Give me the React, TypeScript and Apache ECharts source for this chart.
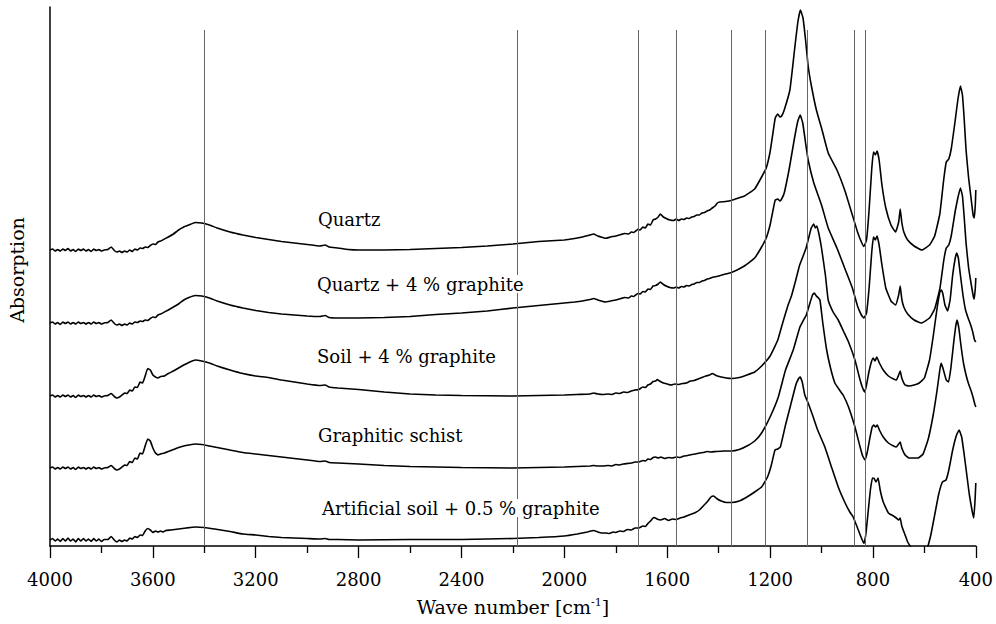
import React, { useEffect, useRef } from "react";
import * as echarts from "echarts";

const SERIES_NAMES = [
  "Quartz",
  "Quartz + 4 % graphite",
  "Soil + 4 % graphite",
  "Graphitic schist",
  "Artificial soil + 0.5 % graphite",
];

const OFFSETS = [296, 223, 150, 78, 6];
const REF_LINES = [3399, 2183, 1714, 1565, 1352, 1220, 1055, 872, 830];

const QUARTZ = [
  [4000,0],[3990,1],[3980,-1],[3970,0.5],[3960,-1],[3950,1],[3940,-0.5],[3930,1.5],[3920,-1],[3910,0.5],[3900,-1.5],[3890,1],[3880,-0.5],[3870,1],[3860,-1],[3850,0.5],[3840,-1.5],[3830,1],[3820,-0.5],[3810,0.5],[3800,-1],[3790,0],[3775,0.5],[3762,3],[3750,-0.5],[3740,-2],[3730,-1],[3720,-2.5],[3710,-1],[3700,-2],[3690,0],[3680,-1.5],[3670,1],[3660,0],[3650,2],[3640,1.5],[3630,3],[3620,2.5],[3610,4.5],[3600,6],[3590,5.5],[3580,8],[3570,9],[3555,11],[3540,13],[3520,16],[3500,20],[3480,23],[3460,25],[3435,27.5],[3410,27],[3380,25],[3350,22],[3300,18],[3250,15],[3200,12.5],[3150,10.5],[3100,8.5],[3050,7],[3000,5.5],[2950,4],[2930,5],[2915,3],[2880,2],[2840,0.5],[2800,0],[2700,0],[2600,0.5],[2500,1.5],[2400,2.5],[2300,4],[2200,6],[2100,8.5],[2000,10],[1960,11.5],[1930,13],[1900,15],[1886,16],[1870,14],[1850,12.5],[1840,11.7],[1820,13],[1800,14],[1780,15.5],[1765,16.5],[1750,16],[1740,18],[1730,17.5],[1720,19.5],[1714,20.7],[1705,20],[1695,23],[1685,22],[1675,26],[1665,25],[1655,30],[1645,31],[1635,33],[1627,36],[1615,33],[1600,31],[1590,30],[1575,29.5],[1565,31],[1555,29.5],[1545,31],[1535,30.5],[1525,32],[1515,31.5],[1505,33],[1495,33.5],[1485,35],[1475,35],[1465,37],[1455,37.5],[1445,39],[1435,40],[1425,42],[1414,44],[1405,47],[1395,48],[1380,48.3],[1360,49],[1340,50.5],[1300,54],[1260,61],[1233,73],[1215,82],[1200,98],[1190,115],[1180,132],[1170,136],[1162,133],[1155,134],[1145,140],[1123,160],[1105,200],[1092,228],[1082,240],[1072,232],[1062,210],[1052,184],[1040,165],[1020,140],[1000,122],[974,97],[940,80],[910,60],[880,35],[860,18],[845,8],[835,3.5],[825,10],[815,40],[805,80],[798,98],[791,95],[784,99],[776,90],[765,65],[750,42],[730,25],[712,18],[700,28],[694,41],[688,28],[680,18],[665,10],[640,4],[610,0],[580,5],[560,14],[540,36],[525,70],[515,88],[505,91],[495,102],[480,130],[470,150],[460,164],[452,155],[445,130],[438,100],[428,72],[420,55],[410,34],[406,32],[402,45],[400,60],
];

const QUARTZ_GRAPHITE = [
  [4000,0],[3990,1],[3980,-1],[3970,0.5],[3960,-1.5],[3950,1],[3940,-0.5],[3930,1],[3920,-1],[3910,0.5],[3900,-1],[3890,1],[3880,-0.5],[3870,0.5],[3860,-1],[3850,0.5],[3840,-1],[3830,1],[3820,-0.5],[3810,0.5],[3800,-1],[3790,0],[3775,0.5],[3762,3],[3750,-0.5],[3740,-2],[3730,-1],[3720,-2.5],[3710,-1],[3700,-2],[3690,0],[3680,-1],[3670,1],[3660,0.5],[3650,2],[3640,1.5],[3630,3],[3620,2.5],[3610,4.5],[3600,6],[3590,5.5],[3580,8],[3570,9],[3555,11],[3540,13],[3520,16],[3500,19],[3480,23],[3460,25.5],[3435,27.5],[3410,27],[3380,25],[3350,22],[3300,18],[3250,15],[3200,12.5],[3150,10.5],[3100,9],[3000,7],[2950,6.5],[2930,7.5],[2915,5.5],[2880,5],[2800,5],[2700,5.5],[2600,6.5],[2500,8.5],[2400,10],[2300,12],[2200,15],[2100,17.5],[2000,20],[1960,21],[1930,22],[1900,23.5],[1886,24.5],[1870,23],[1850,21.5],[1840,21],[1820,22],[1800,23],[1780,24.5],[1765,25.5],[1750,25],[1740,27],[1730,26.5],[1720,28.5],[1714,29.5],[1705,29],[1695,31.5],[1685,31],[1675,34],[1665,33.5],[1655,37],[1645,37.5],[1635,39],[1627,41],[1615,38.5],[1600,36.5],[1590,35.5],[1575,35],[1565,36],[1555,35],[1545,36.5],[1535,36],[1525,37.5],[1515,37],[1505,38.5],[1495,39],[1485,40.5],[1475,40.5],[1465,42],[1455,42.5],[1445,44],[1435,44.5],[1420,46],[1400,47],[1380,48.5],[1350,50.5],[1300,57],[1260,65],[1233,76],[1215,85],[1200,98],[1190,111],[1180,123],[1170,124],[1162,122],[1155,124],[1145,130],[1125,155],[1105,185],[1092,202],[1083,208],[1073,200],[1062,180],[1052,163],[1030,140],[1000,118],[974,95],[940,75],[910,55],[880,35],[860,17],[845,8],[835,5],[825,10],[815,35],[805,70],[798,86],[791,83],[784,87],[776,78],[765,58],[750,35],[730,22],[712,18],[700,28],[694,37],[688,24],[680,16],[665,9],[640,3],[612,0],[580,5],[560,14],[540,34],[525,62],[515,75],[505,78],[495,88],[480,112],[470,125],[460,135],[452,127],[445,105],[438,80],[428,55],[420,42],[410,27],[406,24],[402,35],[400,45],
];

const SOIL_GRAPHITE = [
  [4000,0],[3990,1],[3980,-1],[3970,0.5],[3960,-1],[3950,1],[3940,-0.5],[3930,1],[3920,-1],[3910,0.5],[3900,-1.5],[3890,1],[3880,-0.5],[3870,0.5],[3860,-1],[3850,0.5],[3840,-1],[3830,1],[3820,-0.5],[3810,0.5],[3800,-1],[3790,0],[3775,0.5],[3762,2.5],[3750,-0.5],[3740,-2],[3730,-1],[3720,1],[3710,3],[3700,2.5],[3690,6],[3680,5],[3670,9],[3660,8.5],[3650,14],[3640,13],[3630,20],[3620,27.5],[3610,26],[3600,21],[3590,19],[3580,18],[3570,19.5],[3555,20],[3540,22.5],[3520,25],[3500,28],[3480,31],[3460,33.5],[3435,36],[3410,35],[3380,33],[3350,30],[3300,26],[3250,22.5],[3200,20],[3150,18.5],[3100,16],[3050,14],[3000,12],[2950,10.5],[2930,11],[2915,9],[2880,8],[2800,6.5],[2700,4],[2600,2],[2500,1],[2400,0.5],[2200,0],[2100,0.5],[2000,1],[1950,1.5],[1900,2],[1886,3],[1870,2],[1850,1.5],[1830,2],[1815,1.5],[1800,3],[1785,2.5],[1770,4],[1755,3.5],[1740,5],[1725,6],[1710,6.5],[1695,9],[1685,8.5],[1675,11],[1665,12],[1655,14.5],[1645,15],[1638,16.5],[1630,15],[1615,13],[1600,12],[1585,11],[1570,12],[1555,11.5],[1540,12.5],[1525,13],[1510,15],[1495,15.5],[1480,17],[1465,18.5],[1450,20],[1435,21],[1425,22.5],[1410,20.5],[1390,19],[1370,18],[1350,17.5],[1320,18.5],[1290,21],[1260,24],[1233,30],[1200,40],[1170,56],[1150,74],[1130,91],[1117,100],[1100,116],[1085,131],[1070,141],[1060,148],[1050,158],[1040,168],[1030,172],[1024,168],[1018,170],[1010,162],[1000,148],[985,121],[974,96],[955,84],[935,76],[915,65],[895,54],[870,36],[850,16],[840,8],[832,4],[825,11],[815,25],[805,35],[799,38],[792,35],[785,39],[775,33],[760,26],[740,20],[720,17],[709,16],[700,21],[694,25],[688,18],[675,11],[660,10],[640,11],[620,13],[600,18],[580,36],[565,61],[550,89],[540,104],[534,106],[528,102],[520,91],[510,85],[500,96],[490,121],[480,138],[474,143],[468,138],[460,121],[450,101],[440,86],[430,78],[420,71],[412,64],[405,56],[400,54],
];

const GRAPHITIC_SCHIST = [
  [4000,0],[3990,1],[3980,-1],[3970,0.5],[3960,-1],[3950,1],[3940,-0.5],[3930,1],[3920,-1],[3910,0.5],[3900,-1.5],[3890,1],[3880,-0.5],[3870,0.5],[3860,-1],[3850,0.5],[3840,-1],[3830,1],[3820,-0.5],[3810,0.5],[3800,-1],[3790,0],[3775,0.5],[3762,2.5],[3750,-0.5],[3740,-2],[3730,-1],[3720,1],[3710,3],[3700,2.5],[3690,6.5],[3680,5.5],[3670,10],[3660,9],[3650,15],[3640,14],[3630,22],[3620,29],[3610,27],[3600,20],[3590,15],[3580,13],[3570,14],[3555,15],[3540,16.5],[3520,18.5],[3500,20.5],[3480,22],[3460,23],[3435,24],[3410,23.5],[3380,22],[3350,20.5],[3300,18],[3250,15.5],[3200,14],[3150,12.5],[3100,11],[3050,9.5],[3000,8],[2950,6.5],[2930,7],[2915,5.5],[2880,5],[2800,4],[2700,2.5],[2600,1.5],[2500,1],[2400,0.5],[2200,0],[2000,1],[1950,1.5],[1900,2],[1886,2.5],[1870,2],[1850,2],[1830,2.5],[1815,2],[1800,3.5],[1785,3],[1770,4],[1755,4.5],[1740,5],[1725,6],[1710,6],[1695,7.5],[1685,7],[1675,9],[1665,8.5],[1655,10.5],[1645,11],[1635,10],[1625,11],[1610,9.5],[1595,10.5],[1580,10],[1565,11],[1550,10.5],[1535,12],[1520,12.5],[1505,13.5],[1490,14],[1475,15],[1460,15.5],[1445,16.5],[1430,16],[1410,16.5],[1380,17],[1350,17],[1320,18.5],[1290,22],[1260,27],[1233,35],[1200,51],[1168,71],[1140,98],[1110,118],[1084,141],[1070,148],[1059,153],[1045,165],[1035,173],[1028,175],[1020,172],[1012,170],[1006,168],[995,145],[980,118],[965,100],[948,85],[930,78],[916,73],[895,61],[870,41],[850,21],[840,12],[831,8],[822,16],[812,30],[803,41],[797,43],[790,41],[783,43],[775,38],[760,31],[740,25],[720,22],[709,21],[700,24],[694,26],[688,20],[675,13],[660,10],[640,10],[625,10],[605,14],[585,29],[565,54],[550,79],[540,98],[535,104.7],[528,100],[515,88],[506,86],[497,100],[485,128],[478,142],[473,148],[466,140],[458,123],[448,105],[438,93],[428,84],[418,77],[410,70],[404,64],[400,61],
];

const ARTIFICIAL_SOIL = [
  [4000,0],[3990,1.5],[3980,-1],[3970,1],[3960,-1.5],[3950,1.5],[3940,-1],[3930,2],[3920,-1],[3910,1],[3900,-2],[3890,1.5],[3880,-1],[3870,1.5],[3860,-1],[3850,1],[3840,-1.5],[3830,1.5],[3820,-1],[3810,1],[3800,-1.5],[3790,0.5],[3775,0.5],[3762,3.5],[3750,0],[3740,-2],[3730,0],[3720,-1.5],[3710,0],[3700,-1],[3690,2],[3680,1],[3670,3.5],[3660,2.5],[3650,5],[3640,4.5],[3630,9],[3620,11.5],[3610,10],[3600,7.5],[3590,9],[3580,8],[3570,9],[3560,8],[3550,9.5],[3530,10],[3500,11],[3470,12],[3435,13],[3400,12.5],[3360,11],[3300,8.5],[3250,6],[3200,5],[3150,3.5],[3100,2.5],[3050,2],[3000,1.5],[2950,1],[2930,1.5],[2915,0.5],[2880,0.5],[2800,0],[2600,0.5],[2400,0.5],[2200,1.5],[2100,2.5],[2000,4],[1950,6],[1910,8],[1886,9.5],[1870,8],[1855,7],[1840,7],[1825,6.5],[1810,8],[1800,7.5],[1785,9],[1770,8.5],[1755,10.5],[1740,10],[1725,12],[1710,12],[1695,14],[1685,13.5],[1675,16.5],[1665,19],[1655,22],[1650,22.5],[1640,21],[1625,20],[1610,21.5],[1595,19.5],[1580,21],[1565,20.5],[1550,22],[1535,23],[1520,24.5],[1505,26],[1490,27.5],[1475,30],[1460,34],[1445,38],[1430,43],[1420,44],[1405,41],[1390,39],[1370,37.5],[1350,37.5],[1320,39],[1290,43],[1260,48],[1233,53],[1210,63],[1195,75],[1181,90],[1170,91],[1160,93],[1140,115],[1120,135],[1100,155],[1090,161],[1083,163],[1075,158],[1065,145],[1052,137],[1035,125],[1015,110],[987,93],[960,72],[935,53],[910,38],[890,28],[877,23],[860,12],[845,2],[835,-3.5],[828,5],[818,30],[810,50],[802,62],[796,61.7],[788,58],[780,62],[772,50],[760,38],[740,27],[720,24],[709,22],[700,20],[694,22],[688,14],[675,5],[665,-2],[651,-8],[640,-15],[620,-30],[605,-24],[592,-12],[575,5],[560,25],[545,45],[530,58],[516,60],[505,70],[490,90],[475,105],[465,110],[455,103],[445,85],[435,65],[425,45],[415,30],[408,22],[403,40],[400,57],
];

const SPECTRA = [QUARTZ, QUARTZ_GRAPHITE, SOIL_GRAPHITE, GRAPHITIC_SCHIST, ARTIFICIAL_SOIL];

const FONT = "DejaVu Serif";

export default function App() {
  const ref = useRef<HTMLDivElement>(null);

  useEffect(() => {
    if (!ref.current) return;
    const chart = echarts.init(ref.current, null, { renderer: "svg" });

    const series: any[] = SPECTRA.map((pts, i) => ({
      name: SERIES_NAMES[i],
      type: "line",
      data: pts.map(([w, a]) => [w, a + OFFSETS[i]]),
      showSymbol: false,
      symbol: "none",
      smooth: 0.12,
      clip: true,
      z: 3,
      lineStyle: { color: "#000", width: 1.6 },
    }));

    series.push({
      name: "bands",
      type: "line",
      data: [],
      z: 1,
      markLine: {
        silent: true,
        symbol: "none",
        animation: false,
        label: { show: false },
        lineStyle: { color: "#666", width: 1, type: "solid" },
        data: REF_LINES.map((w) => [
          { coord: [w, 516] },
          { coord: [w, 0] },
        ]),
      },
    });

    const labelPos = [
      [318, 219],
      [317, 284],
      [317, 356],
      [318, 435],
      [322, 508],
    ];

    chart.setOption({
      animation: false,
      backgroundColor: "#fff",
      textStyle: { fontFamily: FONT },
      grid: { left: 50, right: 18, top: 7, bottom: 78, containLabel: false },
      xAxis: {
        type: "value",
        inverse: true,
        min: 400,
        max: 4000,
        interval: 400,
        axisLine: { onZero: false, lineStyle: { color: "#000", width: 1.5 } },
        axisTick: { show: true, length: 12, lineStyle: { color: "#000", width: 1.3 } },
        minorTick: { show: true, splitNumber: 2, length: 7, lineStyle: { color: "#000", width: 1.3 } },
        splitLine: { show: false },
        minorSplitLine: { show: false },
        axisLabel: {
          color: "#000",
          fontFamily: FONT,
          fontSize: 18,
          margin: 24,
          formatter: (v: number) => String(v),
        },
        name: "Wave number [cm{sup|-1}]",
        nameLocation: "middle",
        nameGap: 51,
        nameTextStyle: {
          color: "#000",
          fontFamily: FONT,
          fontSize: 19,
          rich: {
            sup: { fontFamily: FONT, fontSize: 11, color: "#000", verticalAlign: "top", lineHeight: 19 },
          },
        },
      },
      yAxis: {
        type: "value",
        min: 0,
        max: 539,
        axisLine: { show: true, onZero: false, lineStyle: { color: "#000", width: 1.5 } },
        axisTick: { show: false },
        axisLabel: { show: false },
        splitLine: { show: false },
      },
      graphic: [
        ...SERIES_NAMES.map((name, i) => ({
          type: "text",
          z: 100,
          x: labelPos[i][0],
          y: labelPos[i][1],
          style: {
            text: name,
            fontFamily: FONT,
            fontSize: 18,
            fill: "#000",
            backgroundColor: "#fff",
            verticalAlign: "middle",
          },
        })),
        {
          type: "text",
          z: 100,
          x: 17,
          y: 270,
          rotation: Math.PI / 2,
          style: {
            text: "Absorption",
            fontFamily: FONT,
            fontSize: 19,
            fill: "#000",
            align: "center",
            verticalAlign: "middle",
          },
        },
      ],
      series,
    });

    return () => chart.dispose();
  }, []);

  return (
    <div
      ref={ref}
      style={{ position: "fixed", left: 0, top: 0, width: 996, height: 624, background: "#fff" }}
    />
  );
}
